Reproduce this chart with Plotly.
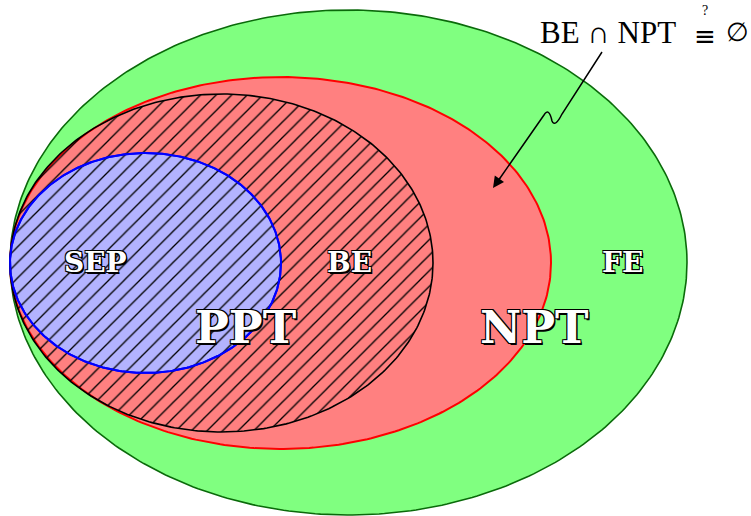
import numpy as np
import plotly.graph_objects as go

# Sets (ellipses) in pixel space of the figure: centre x, centre y, radius x, radius y
set_names = ["FE", "NPT", "BE", "SEP"]
centre_x = [348.5, 280.5, 221.5, 145.5]
centre_y = [262.5, 263.0, 263.0, 263.0]
radius_x = [338.5, 270.5, 211.5, 135.5]
radius_y = [252.5, 186.0, 169.0, 110.0]

# Labels
label_text = ["SEP", "BE", "FE", "PPT", "NPT"]
label_x = [95, 349, 622, 246, 534]
label_y = [262, 262, 262, 327, 327]
label_size = [28, 28, 28, 45, 45]

# Callout path (squiggly arrow) points
callout_x = [602, 562]
callout_y = [52, 114]
arrow_tip = (493, 188)

W, H = 751, 516


def ellipse(i, n=400):
    t = np.linspace(0, 2 * np.pi, n)
    return centre_x[i] + radius_x[i] * np.cos(t), centre_y[i] + radius_y[i] * np.sin(t)


fig = go.Figure()

styles = {
    "FE": dict(fillcolor="#80FF80", line=dict(color="#0a6a0a", width=1.6)),
    "NPT": dict(fillcolor="#FF8080", line=dict(color="#FF0000", width=2)),
}
for name in ["FE", "NPT"]:
    i = set_names.index(name)
    x, y = ellipse(i)
    fig.add_trace(go.Scatter(x=x, y=y, mode="lines", fill="toself",
                             fillcolor=styles[name]["fillcolor"], line=styles[name]["line"],
                             hoverinfo="skip", showlegend=False))

# SEP fill
i = set_names.index("SEP")
x, y = ellipse(i)
fig.add_trace(go.Scatter(x=x, y=y, mode="lines", fill="toself", fillcolor="#B3B3FF",
                         line=dict(color="#0000FF", width=2), hoverinfo="skip", showlegend=False))

# BE hatched
i = set_names.index("BE")
x, y = ellipse(i)
fig.add_trace(go.Scatter(x=x, y=y, mode="lines", fill="toself", fillcolor="rgba(0,0,0,0)",
                         fillpattern=dict(shape="/", size=11, solidity=0.12, fgcolor="#000000",
                                          fgopacity=1, bgcolor="rgba(0,0,0,0)"),
                         line=dict(color="black", width=1.6), hoverinfo="skip", showlegend=False))

# SEP outline on top
i = set_names.index("SEP")
x, y = ellipse(i)
fig.add_trace(go.Scatter(x=x, y=y, mode="lines", line=dict(color="#0000FF", width=2),
                         hoverinfo="skip", showlegend=False))

# squiggly callout line
path = (f"M {callout_x[0]} {callout_y[0]} L {callout_x[1]} {callout_y[1]} "
        f"Q 555 128 552 121 Q 549 107 544 115 L {arrow_tip[0] + 5} {arrow_tip[1] - 7}")
fig.add_shape(type="path", path=path, xref="x", yref="y", line=dict(color="black", width=1.5))
fig.add_annotation(x=arrow_tip[0], y=arrow_tip[1], ax=arrow_tip[0] + 8, ay=arrow_tip[1] - 11.5,
                   axref="x", ayref="y", xref="x", yref="y", text="", showarrow=True,
                   arrowhead=2, arrowsize=1.6, arrowwidth=1.4, arrowcolor="black")

outline = "-1px -1px 0 #000, 1px -1px 0 #000, -1px 1px 0 #000, 1px 1px 0 #000, 1.5px 1.5px 0 #000"
for t, lx, ly, s in zip(label_text, label_x, label_y, label_size):
    fig.add_annotation(x=lx, y=ly, text=f"<b>{t}</b>", showarrow=False, xref="x", yref="y",
                       font=dict(family="DejaVu Serif", size=s, color="white", shadow=outline))

serif = "Liberation Serif"
fig.add_annotation(x=538, y=32, text="BE ∩ NPT", showarrow=False, xref="x", yref="y",
                   xanchor="left", yanchor="middle", font=dict(family=serif, size=31, color="#000000"))
fig.add_annotation(x=705, y=36, text="≡", showarrow=False, xref="x", yref="y",
                   font=dict(family="DejaVu Sans", size=26, color="#000000"))
fig.add_annotation(x=705, y=10, text="?", showarrow=False, xref="x", yref="y",
                   font=dict(family=serif, size=14, color="#000000"))
fig.add_annotation(x=737, y=32, text="∅", showarrow=False, xref="x", yref="y",
                   font=dict(family="DejaVu Serif", size=26, color="#000000"))

fig.update_layout(width=W, height=H, margin=dict(l=0, r=0, t=0, b=0),
                  paper_bgcolor="white", plot_bgcolor="white",
                  xaxis=dict(range=[0, W], visible=False, fixedrange=True),
                  yaxis=dict(range=[H, 0], visible=False, fixedrange=True))
fig.write_html("out.html", config={"displayModeBar": False},
               post_script="document.body.style.margin='0';document.body.style.overflow='hidden';")
